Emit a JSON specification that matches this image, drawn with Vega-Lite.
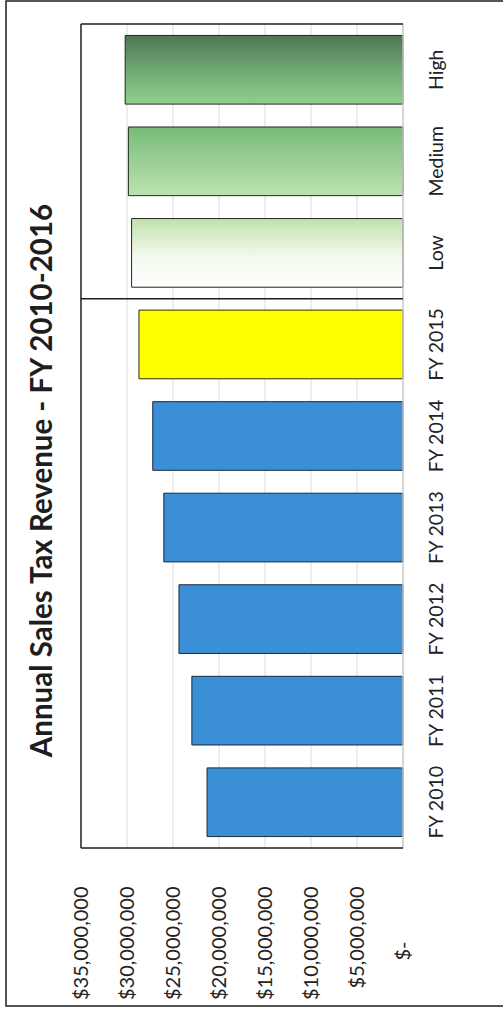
{
  "$schema": "https://vega.github.io/schema/vega-lite/v6.json",
  "width": 520,
  "height": 1005,
  "autosize": "none",
  "padding": {"left": 6, "top": 1, "right": -23, "bottom": 5},
  "background": "white",
  "title": {
    "text": "Annual Sales Tax Revenue - FY 2010-2016",
    "orient": "left",
    "frame": "group",
    "anchor": "middle",
    "offset": -52,
    "dx": 23,
    "font": "Lato",
    "fontSize": 29.5,
    "fontWeight": "bold",
    "color": "#1e1e1e"
  },
  "datasets": {
    "revenue": [
      {"period": "High", "revenue": 30200000},
      {"period": "Medium", "revenue": 29850000},
      {"period": "Low", "revenue": 29500000},
      {"period": "FY 2015", "revenue": 28700000},
      {"period": "FY 2014", "revenue": 27200000},
      {"period": "FY 2013", "revenue": 26000000},
      {"period": "FY 2012", "revenue": 24350000},
      {"period": "FY 2011", "revenue": 22950000},
      {"period": "FY 2010", "revenue": 21300000}
    ],
    "gridlines": [
      {"level": 5000000},
      {"level": 10000000},
      {"level": 15000000},
      {"level": 20000000},
      {"level": 25000000},
      {"level": 30000000}
    ],
    "frame": [{}]
  },
  "data": {"name": "revenue"},
  "config": {
    "view": {"stroke": "#1e1e1e", "strokeWidth": 1.5},
    "font": "Lato"
  },
  "layer": [
    {
      "data": {"name": "gridlines"},
      "mark": {"type": "rule", "color": "#dcdcdc", "strokeWidth": 1},
      "encoding": {
        "x": {
          "field": "level",
          "type": "quantitative",
          "scale": {"domain": [-13369565, 43152174], "reverse": true, "nice": false, "zero": false},
          "axis": {
            "orient": "bottom",
            "values": [0, 5000000, 10000000, 15000000, 20000000, 25000000, 30000000, 35000000],
            "labelExpr": "datum.value === 0 ? '$-' : format(datum.value, '$,.0f')",
            "labelAngle": -90,
            "labelAlign": "right",
            "labelBaseline": "middle",
            "labelPadding": {"condition": {"test": "datum.value === 0", "value": 55}, "value": 0},
            "labelFont": "Lato",
            "labelFontSize": 20,
            "labelColor": "#222222",
            "labelOverlap": false,
            "ticks": false,
            "domain": false,
            "grid": false,
            "offset": -120,
            "title": null
          }
        },
        "y": {
          "datum": "High",
          "type": "nominal",
          "bandPosition": 0,
          "scale": {
            "type": "band",
            "domain": ["High", "Medium", "Low", "FY 2015", "FY 2014", "FY 2013", "FY 2012", "FY 2011", "FY 2010"],
            "paddingInner": 0,
            "paddingOuter": 0.9884,
            "align": 0.127
          },
          "axis": {
            "orient": "right",
            "offset": -123,
            "labelAngle": -90,
            "labelAlign": "center",
            "labelBaseline": "top",
            "labelPadding": 24,
            "labelFont": "Lato",
            "labelFontSize": 19.5,
            "labelColor": "#222222",
            "ticks": false,
            "domain": false,
            "grid": false,
            "title": null
          }
        },
        "y2": {"datum": "FY 2010", "bandPosition": 1}
      }
    },
    {
      "transform": [{"filter": "indexof(['FY 2010','FY 2011','FY 2012','FY 2013','FY 2014'], datum.period) >= 0"}],
      "mark": {"type": "bar", "height": {"band": 0.75}, "fill": "#3a8fd6", "stroke": "#1c2a38", "strokeWidth": 1},
      "encoding": {
        "x": {"field": "revenue", "type": "quantitative"},
        "x2": {"datum": 0},
        "y": {"field": "period", "type": "nominal"}
      }
    },
    {
      "transform": [{"filter": "datum.period === 'FY 2015'"}],
      "mark": {"type": "bar", "height": {"band": 0.75}, "fill": "#ffff00", "stroke": "#2a2a10", "strokeWidth": 1},
      "encoding": {
        "x": {"field": "revenue", "type": "quantitative"},
        "x2": {"datum": 0},
        "y": {"field": "period", "type": "nominal"}
      }
    },
    {
      "transform": [{"filter": "datum.period === 'High'"}],
      "mark": {
        "type": "bar",
        "height": {"band": 0.75},
        "stroke": "#1e2a20",
        "strokeWidth": 1,
        "fill": {
          "gradient": "linear", "x1": 0, "y1": 0, "x2": 0, "y2": 1,
          "stops": [
            {"offset": 0, "color": "#4e7656"},
            {"offset": 0.5, "color": "#70a872"},
            {"offset": 1, "color": "#8fd08e"}
          ]
        }
      },
      "encoding": {
        "x": {"field": "revenue", "type": "quantitative"},
        "x2": {"datum": 0},
        "y": {"field": "period", "type": "nominal"}
      }
    },
    {
      "transform": [{"filter": "datum.period === 'Medium'"}],
      "mark": {
        "type": "bar",
        "height": {"band": 0.75},
        "stroke": "#1e2a20",
        "strokeWidth": 1,
        "fill": {
          "gradient": "linear", "x1": 0, "y1": 0, "x2": 0, "y2": 1,
          "stops": [
            {"offset": 0, "color": "#78bb78"},
            {"offset": 1, "color": "#bde3b0"}
          ]
        }
      },
      "encoding": {
        "x": {"field": "revenue", "type": "quantitative"},
        "x2": {"datum": 0},
        "y": {"field": "period", "type": "nominal"}
      }
    },
    {
      "transform": [{"filter": "datum.period === 'Low'"}],
      "mark": {
        "type": "bar",
        "height": {"band": 0.75},
        "stroke": "#1e2a20",
        "strokeWidth": 1,
        "fill": {
          "gradient": "linear", "x1": 0, "y1": 0, "x2": 0, "y2": 1,
          "stops": [
            {"offset": 0, "color": "#c2e1aa"},
            {"offset": 0.55, "color": "#f3f9ee"},
            {"offset": 1, "color": "#ffffff"}
          ]
        }
      },
      "encoding": {
        "x": {"field": "revenue", "type": "quantitative"},
        "x2": {"datum": 0},
        "y": {"field": "period", "type": "nominal"}
      }
    },
    {
      "data": {"name": "frame"},
      "mark": {"type": "rule", "color": "#c8c8c8", "strokeWidth": 1.5},
      "encoding": {
        "x": {"datum": 0},
        "y": {"datum": "High", "bandPosition": 0},
        "y2": {"datum": "FY 2010", "bandPosition": 1}
      }
    },
    {
      "data": {"name": "frame"},
      "mark": {"type": "rule", "color": "#1e1e1e", "strokeWidth": 1.5},
      "encoding": {
        "x": {"datum": 35000000},
        "y": {"datum": "High", "bandPosition": 0},
        "y2": {"datum": "FY 2010", "bandPosition": 1}
      }
    },
    {
      "data": {"name": "frame"},
      "mark": {"type": "rule", "color": "#1e1e1e", "strokeWidth": 1.5},
      "encoding": {
        "x": {"datum": 35000000},
        "x2": {"datum": 0},
        "y": {"datum": "High", "bandPosition": 0}
      }
    },
    {
      "data": {"name": "frame"},
      "mark": {"type": "rule", "color": "#1e1e1e", "strokeWidth": 1.5},
      "encoding": {
        "x": {"datum": 35000000},
        "x2": {"datum": 0},
        "y": {"datum": "FY 2015", "bandPosition": 0}
      }
    },
    {
      "data": {"name": "frame"},
      "mark": {"type": "rule", "color": "#1e1e1e", "strokeWidth": 1.5},
      "encoding": {
        "x": {"datum": 35000000},
        "x2": {"datum": 0},
        "y": {"datum": "FY 2010", "bandPosition": 1}
      }
    }
  ]
}
